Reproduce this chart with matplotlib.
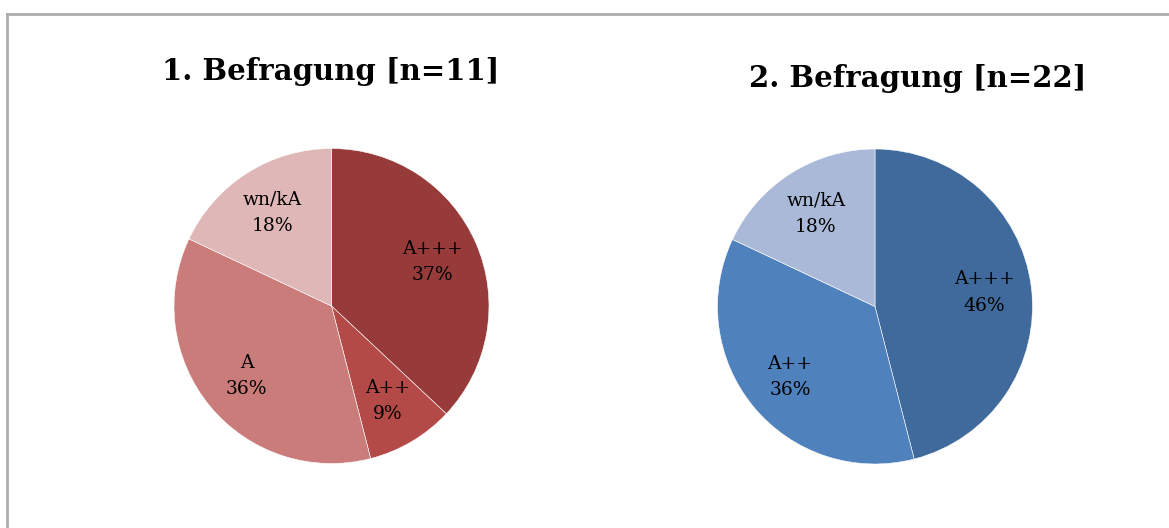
import matplotlib.pyplot as plt
from matplotlib.lines import Line2D

# survey 1
labels_1 = ['A+++', 'A++', 'A', 'wn/kA']
values_1 = [37, 9, 36, 18]
colors_1 = ['#963B3A', '#B44A47', '#CA7C7A', '#DFB7B6']

# survey 2
labels_2 = ['A+++', 'A++', 'wn/kA']
values_2 = [46, 36, 18]
colors_2 = ['#406A9B', '#4F81BD', '#AAB9D7']

titles = ['1. Befragung [n=11]', '2. Befragung [n=22]']

W, H = 1169, 528
fig = plt.figure(figsize=(W / 100, H / 100), dpi=100)
fig.patch.set_facecolor('white')

# gray frame (only left and top edges are visible)
fig.add_artist(Line2D([7 / W, 7 / W], [0, 1 - 14 / H], color='#ADADAD', lw=2,
                      transform=fig.transFigure))
fig.add_artist(Line2D([7 / W, 1], [1 - 14 / H, 1 - 14 / H], color='#ADADAD', lw=2,
                      transform=fig.transFigure))

r = 157.5


def draw_pie(cx, cy, labels, values, colors):
    ax = fig.add_axes([(cx - r) / W, 1 - (cy + r) / H, 2 * r / W, 2 * r / H])
    texts = ax.pie(values, colors=colors, startangle=90, counterclock=False,
                   labels=[f'{l}\n{v}%' for l, v in zip(labels, values)],
                   labeldistance=0.7,
                   wedgeprops=dict(edgecolor='white', linewidth=0.4),
                   textprops=dict(family='DejaVu Serif', fontsize=13.5, color='black'))[1]
    for t in texts:
        t.set_ha('center')
        t.set_va('center')
        t.set_linespacing(1.6)
    ax.set_xlim(-1, 1)
    ax.set_ylim(-1, 1)
    ax.set_aspect('equal')
    ax.axis('off')


draw_pie(331.5, 306, labels_1, values_1, colors_1)
draw_pie(875, 306.5, labels_2, values_2, colors_2)

fig.text(331 / W, 1 - 80 / H, titles[0], ha='center', va='baseline',
         family='DejaVu Serif', fontweight='bold', fontsize=21)
fig.text(917.5 / W, 1 - 87 / H, titles[1], ha='center', va='baseline',
         family='DejaVu Serif', fontweight='bold', fontsize=21)

fig.savefig('out.png', dpi=100)
